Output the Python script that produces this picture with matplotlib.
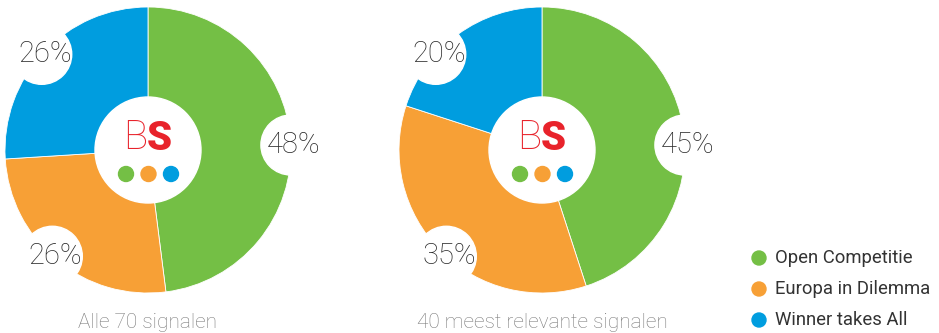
import matplotlib.pyplot as plt
import numpy as np
from matplotlib.patches import Circle

plt.rcParams['font.family'] = ['Roboto', 'DejaVu Sans']

# scenario shares per selection of signals
categories = ['Open Competitie', 'Europa in Dilemma', 'Winner takes All']
alle_signalen = [48, 26, 26]
relevante_signalen = [45, 35, 20]
titles = ['Alle 70 signalen', '40 meest relevante signalen']

colors = ['#74bf45', '#f7a036', '#009ddf']
red = '#e8232b'
W, H = 939, 333

# label bubbles sit on the rim at fixed angles (degrees, counter-clockwise
# from east), one per category
label_angles = [2, 228, 138]


def draw_pie(ax, values, cx, title):
    cy = H - 150
    r = 143
    ax.pie(values, colors=colors, startangle=90, counterclock=False,
           center=(cx, cy), radius=r,
           wedgeprops=dict(edgecolor='white', linewidth=0.6))

    for v, ang in zip(values, label_angles):
        a = np.deg2rad(ang)
        bx, by = cx + r * np.cos(a), cy + r * np.sin(a)
        ax.add_patch(Circle((bx, by), 30, color='white', zorder=3))
        ax.text(bx + 3, by, f'{v}%', ha='center', va='center', fontsize=21,
                fontweight='light', color='#2b2b2b', zorder=4)

    # logo in the middle
    ax.add_patch(Circle((cx, cy), 53, color='white', zorder=3))
    ax.text(cx - 1, cy + 12, 'B', ha='right', va='center', fontsize=29,
            fontweight='light', color=red, zorder=4)
    ax.text(cx - 1, cy + 12, 'S', ha='left', va='center', fontsize=29,
            fontweight='black', color=red, zorder=4)
    for i, c in enumerate(colors):
        ax.add_patch(Circle((cx - 22 + 22.5 * i, cy - 24), 7.5, color=c, zorder=4))

    ax.text(cx, H - 322, title, ha='center', va='center', fontsize=15,
            fontweight='light', color='#7a7a7a')


fig = plt.figure(figsize=(W / 100, H / 100), dpi=100)
ax = fig.add_axes([0, 0, 1, 1])

draw_pie(ax, alle_signalen, 148, titles[0])
draw_pie(ax, relevante_signalen, 542, titles[1])

# legend
for i, (name, c) in enumerate(zip(categories, colors)):
    y = H - (258 + 31 * i)
    ax.add_patch(Circle((759, y), 7, color=c))
    ax.text(775, y, name, ha='left', va='center', fontsize=13.3,
            fontweight='normal', color='#333333')

ax.set_xlim(0, W)
ax.set_ylim(0, H)
ax.set_aspect('equal')
ax.axis('off')

fig.savefig('out.png', dpi=100, facecolor='white')
